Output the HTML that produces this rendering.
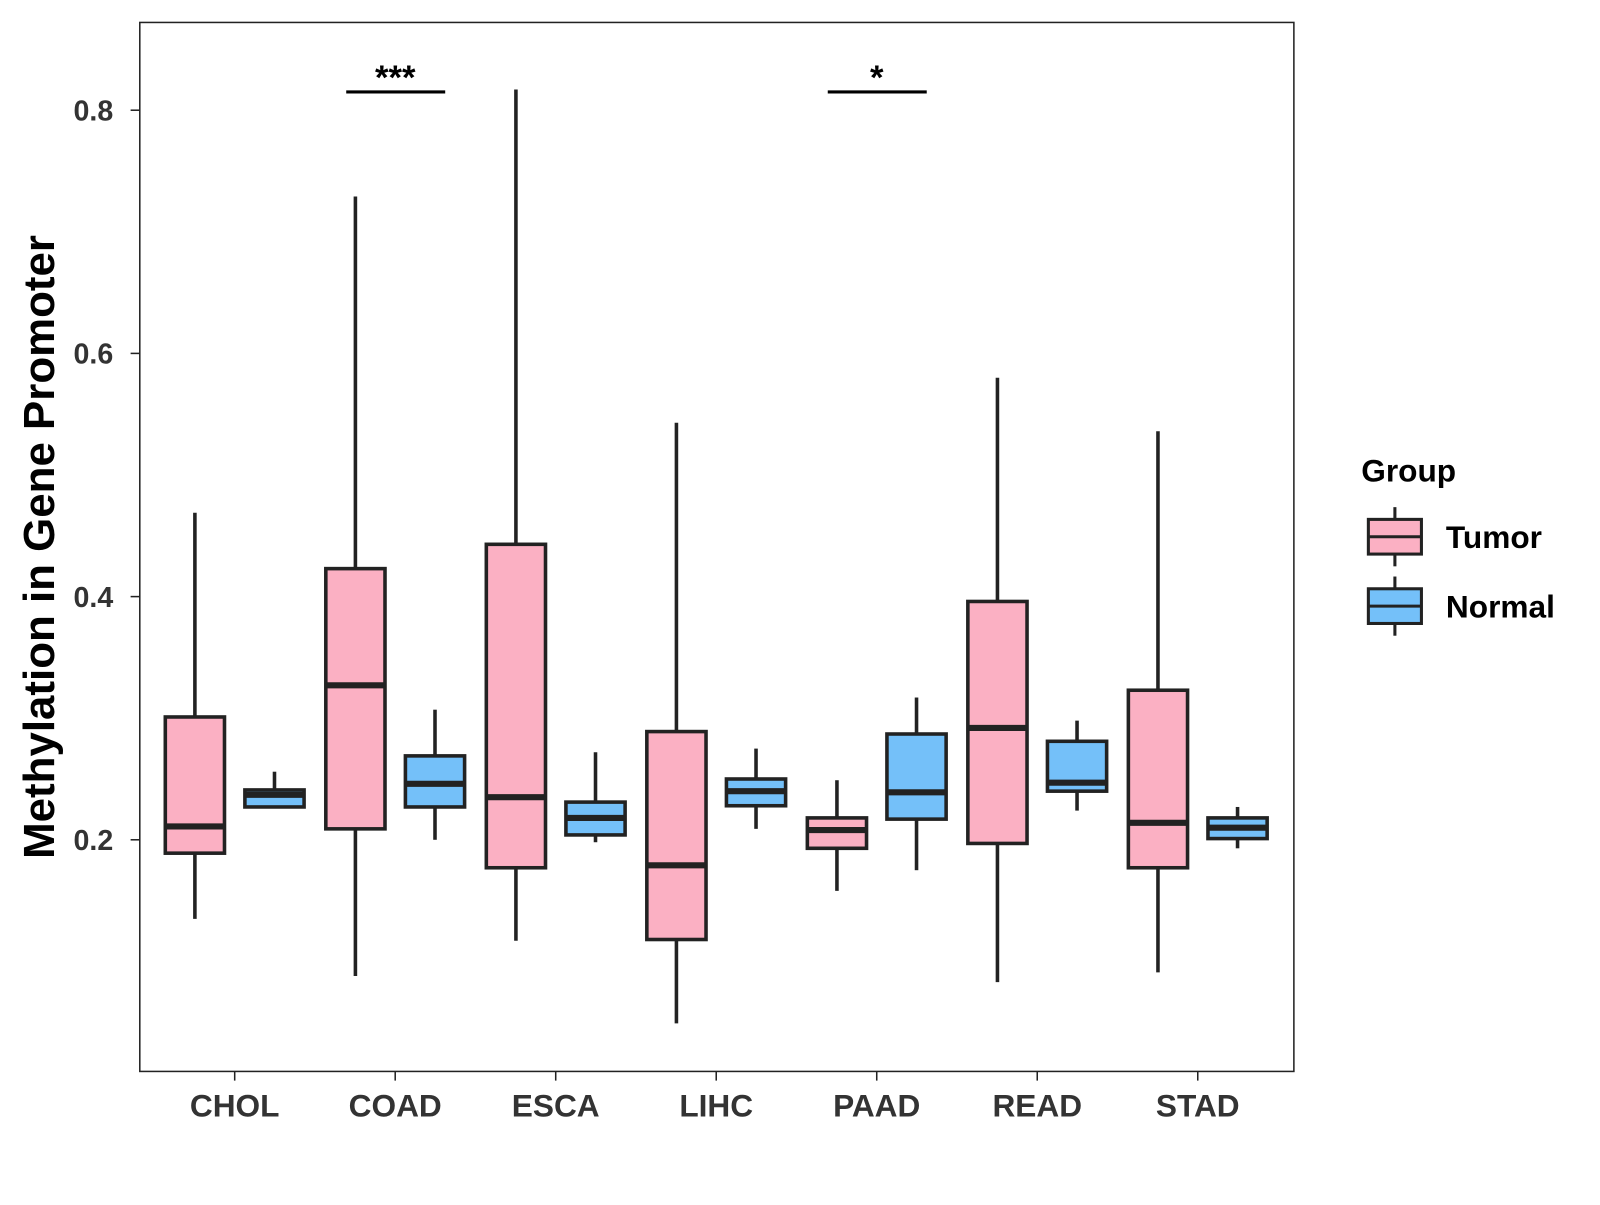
<!DOCTYPE html>
<html><head><meta charset="utf-8"><style>
body{margin:0;background:#fff}
svg text{font-family:"Liberation Sans",Arial,sans-serif;font-weight:bold}
</style></head><body>
<svg id="chart" width="1600" height="1200" viewBox="0 0 1568 1176" xmlns="http://www.w3.org/2000/svg">
<rect x="137" y="22" width="1131" height="1028" fill="#fff" stroke="#222" stroke-width="1.5"/>
<g id="marks"></g>
<g id="axes"></g>
<text transform="translate(53,536) rotate(-90)" text-anchor="middle" font-size="43" fill="#000">Methylation in Gene Promoter</text>
<g>
<text x="1334" y="472" font-size="31" fill="#000">Group</text>
<g>
<line x1="1367" y1="497" x2="1367" y2="555" stroke="#222" stroke-width="3"/>
<rect x="1341" y="509" width="52" height="34" fill="#FBB0C3" stroke="#222" stroke-width="3"/>
<line x1="1341" y1="526" x2="1393" y2="526" stroke="#222" stroke-width="3"/>
<text x="1417" y="537" font-size="31" fill="#000">Tumor</text></g>
<g>
<line x1="1367" y1="565" x2="1367" y2="623" stroke="#222" stroke-width="3"/>
<rect x="1341" y="577" width="52" height="34" fill="#74C0F9" stroke="#222" stroke-width="3"/>
<line x1="1341" y1="594" x2="1393" y2="594" stroke="#222" stroke-width="3"/>
<text x="1417" y="605" font-size="31" fill="#000">Normal</text></g>
</g>
</svg>
<script>
const categories=["CHOL","COAD","ESCA","LIHC","PAAD","READ","STAD"];
// [lower whisker, Q1, median, Q3, upper whisker]
const tumorStats=[[0.135,0.189,0.211,0.301,0.469],[0.088,0.209,0.327,0.423,0.729],[0.117,0.177,0.235,0.443,0.817],[0.049,0.118,0.179,0.289,0.543],[0.158,0.193,0.208,0.218,0.249],[0.083,0.197,0.292,0.396,0.580],[0.091,0.177,0.214,0.323,0.536]];
const normalStats=[[0.227,0.227,0.237,0.241,0.256],[0.200,0.227,0.246,0.269,0.307],[0.198,0.204,0.218,0.231,0.272],[0.209,0.228,0.240,0.250,0.275],[0.175,0.217,0.239,0.287,0.317],[0.224,0.240,0.247,0.281,0.298],[0.193,0.201,0.210,0.218,0.227]];
const yTicks=[0.2,0.4,0.6,0.8];
const yTickLabels=["0.2","0.4","0.6","0.8"];
const signifCats=["COAD","PAAD"];
const signifLabels=["***","*"];
const signifLevel=0.815;

const NS="http://www.w3.org/2000/svg";
const y=v=>823-(v-0.2)*(715/0.6);
const x=i=>230+i*157.3;
function mk(tag,attrs,parent){const e=document.createElementNS(NS,tag);for(const k in attrs)e.setAttribute(k,attrs[k]);parent.appendChild(e);return e;}
const marks=document.getElementById('marks'),axes=document.getElementById('axes');
function box(cx,s,fill,name){
  const g=mk('g',{},marks);
  
  
  const st={stroke:'#222','stroke-width':3.5};
  mk('line',Object.assign({x1:cx,x2:cx,y1:y(s[4]),y2:y(s[3])},st),g);
  mk('line',Object.assign({x1:cx,x2:cx,y1:y(s[1]),y2:y(s[0])},st),g);
  mk('rect',Object.assign({x:cx-29,width:58,y:y(s[3]),height:Math.max(0.5,y(s[1])-y(s[3])),fill:fill},st),g);
  mk('line',{x1:cx-29,x2:cx+29,y1:y(s[2]),y2:y(s[2]),stroke:'#222','stroke-width':6},g);
}
categories.forEach((c,i)=>{
  box(x(i)-39,tumorStats[i],'#FBB0C3','box-tumor-'+c.toLowerCase());
  box(x(i)+39,normalStats[i],'#74C0F9','box-normal-'+c.toLowerCase());
  const t=mk('line',{x1:x(i),x2:x(i),y1:1050,y2:1059,stroke:'#222','stroke-width':1.5},axes);
  
  
  const l=mk('text',{x:x(i),y:1094,'text-anchor':'middle','font-size':31,fill:'#333'},axes);
  
  
  l.textContent=c;
});
yTicks.forEach((v,i)=>{
  const t=mk('line',{x1:128,x2:137,y1:y(v),y2:y(v),stroke:'#222','stroke-width':1.5},axes);
  
  
  const l=mk('text',{x:111,y:y(v)+10,'text-anchor':'end','font-size':28,fill:'#333'},axes);
  
  
  l.textContent=yTickLabels[i];
});
signifCats.forEach((c,k)=>{
  const i=categories.indexOf(c);
  const ln=mk('line',{x1:x(i)-48,x2:x(i)+49,y1:y(signifLevel),y2:y(signifLevel),stroke:'#000','stroke-width':3},marks);
  
  
  const tx=mk('text',{x:x(i),y:y(signifLevel)-3,'text-anchor':'middle','font-size':34,fill:'#000'},marks);
  
  
  tx.textContent=signifLabels[k];
});
</script>
</body></html>
